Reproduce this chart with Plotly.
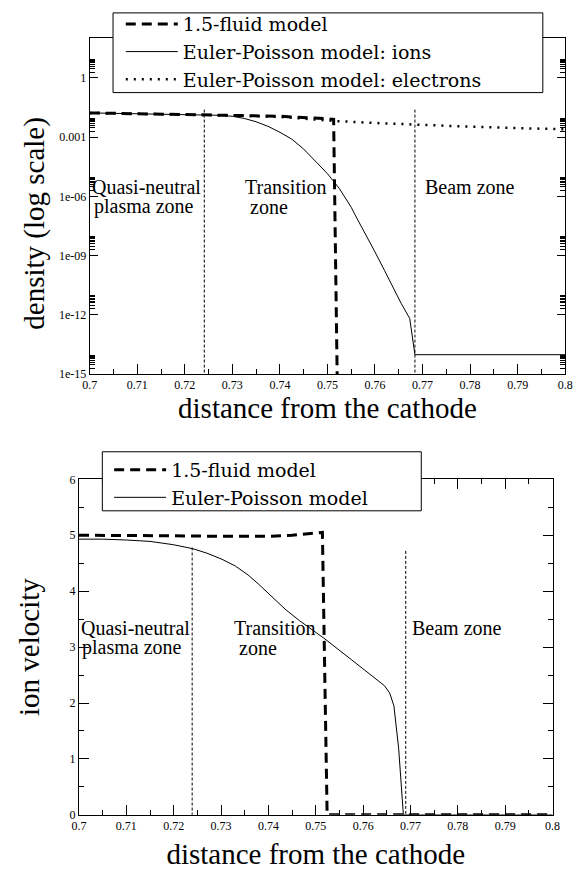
import plotly.graph_objects as go

# ---------------- data ----------------
# top panel: density (log scale)
fluid_dens_x = [0.700, 0.710, 0.720, 0.730, 0.740, 0.750, 0.7513, 0.7521]
fluid_dens_y = [0.017, 0.0155, 0.0145, 0.013, 0.0115, 0.0085, 0.008, 1e-16]

ion_dens_x = [0.700, 0.705, 0.710, 0.715, 0.720, 0.724, 0.727, 0.730, 0.7325, 0.735,
              0.7375, 0.740, 0.7425, 0.745, 0.7475, 0.750, 0.7525, 0.755, 0.7558,
              0.758, 0.7599, 0.762, 0.7639, 0.7655, 0.7673, 0.7684, 0.800]
ion_dens_log = [-1.77, -1.79, -1.81, -1.83, -1.85, -1.86, -1.89, -1.94, -2.05, -2.22,
                -2.45, -2.75, -3.10, -3.60, -4.20, -4.85, -5.60, -6.55, -6.93,
                -7.90, -8.77, -9.75, -10.70, -11.42, -12.18, -14.02, -14.02]
ion_dens_y = [10 ** v for v in ion_dens_log]

elec_dens_x = [0.700, 0.710, 0.720, 0.730, 0.740, 0.7515, 0.760, 0.7708, 0.780, 0.790, 0.800]
elec_dens_log = [-1.77, -1.81, -1.85, -1.90, -1.97, -2.18, -2.28, -2.40, -2.47, -2.54, -2.60]
elec_dens_y = [10 ** v for v in elec_dens_log]

zone_x_top = [0.7241, 0.7684]
zone_top_y = 0.025

# bottom panel: ion velocity
fluid_vel_x = [0.700, 0.710, 0.720, 0.730, 0.740, 0.745, 0.750, 0.7514, 0.7524, 0.800]
fluid_vel_y = [5.00, 5.00, 4.99, 4.98, 4.98, 5.00, 5.04, 5.05, 0.0, 0.0]

ion_vel_x = [0.700, 0.705, 0.710, 0.715, 0.720, 0.724, 0.727, 0.7302, 0.733, 0.7357,
             0.738, 0.7411, 0.7435, 0.7466, 0.7517, 0.7576, 0.7630, 0.7645, 0.7656,
             0.7665, 0.7675, 0.7685, 0.800]
ion_vel_y = [4.93, 4.93, 4.915, 4.89, 4.83, 4.76, 4.68, 4.57, 4.45, 4.29,
             4.12, 3.87, 3.68, 3.47, 3.16, 2.77, 2.42, 2.31, 2.18,
             1.95, 1.19, 0.0, 0.0]

zone_x_bot = [0.7239, 0.7690]
zone_top_bot = [4.78, 4.72]

x_ticks = [0.70, 0.71, 0.72, 0.73, 0.74, 0.75, 0.76, 0.77, 0.78, 0.79, 0.80]
x_ticktext = ["0.7", "0.71", "0.72", "0.73", "0.74", "0.75", "0.76", "0.77", "0.78", "0.79", "0.8"]
dens_ticks = [1e-15, 1e-12, 1e-9, 1e-6, 1e-3, 1]
dens_ticktext = ["1e-15", "1e-12", "1e-09", "1e-06", "0.001", "1"]
dens_minor = [m * 10.0 ** k for k in (-15, -12, -9, -6, -3, 0) for m in range(2, 10)]

zone_labels_top = [("Quasi-neutral", 0.7001, 0.557), ("plasma zone", 0.7004, 0.4985),
                   ("Transition", 0.7323, 0.557), ("zone", 0.7333, 0.4985),
                   ("Beam zone", 0.7700, 0.557)]
zone_labels_bot = [("Quasi-neutral", 0.7001, 0.557), ("plasma zone", 0.7003, 0.4985),
                   ("Transition", 0.7323, 0.557), ("zone", 0.7333, 0.4985),
                   ("Beam zone", 0.7698, 0.557)]

# ---------------- figure ----------------
SERIF = "Liberation Serif, Times New Roman, Times, serif"
LEGF = "DejaVu Serif, Bitstream Vera Serif, serif"

fig = go.Figure()

fig.add_trace(go.Scatter(x=fluid_dens_x, y=fluid_dens_y, mode="lines", name="1.5-fluid model",
                         line=dict(color="black", width=3, dash="10px,6px"),
                         xaxis="x", yaxis="y", legend="legend"))
fig.add_trace(go.Scatter(x=ion_dens_x, y=ion_dens_y, mode="lines", name="Euler-Poisson model: ions",
                         line=dict(color="black", width=1),
                         xaxis="x", yaxis="y", legend="legend"))
fig.add_trace(go.Scatter(x=elec_dens_x, y=elec_dens_y, mode="lines", name="Euler-Poisson model: electrons",
                         line=dict(color="black", width=2.5, dash="2px,6px"),
                         xaxis="x", yaxis="y", legend="legend"))
for zx in zone_x_top:
    fig.add_trace(go.Scatter(x=[zx, zx], y=[zone_top_y, 1e-16], mode="lines", showlegend=False,
                             line=dict(color="black", width=1, dash="3px,2px"),
                             xaxis="x", yaxis="y", hoverinfo="skip"))

fig.add_trace(go.Scatter(x=fluid_vel_x, y=fluid_vel_y, mode="lines", name="1.5-fluid model",
                         line=dict(color="black", width=3, dash="10px,6px"),
                         xaxis="x2", yaxis="y2", legend="legend2"))
fig.add_trace(go.Scatter(x=ion_vel_x, y=ion_vel_y, mode="lines", name="Euler-Poisson model",
                         line=dict(color="black", width=1),
                         xaxis="x2", yaxis="y2", legend="legend2"))
for zx, zt in zip(zone_x_bot, zone_top_bot):
    fig.add_trace(go.Scatter(x=[zx, zx], y=[zt, 0], mode="lines", showlegend=False,
                             line=dict(color="black", width=1, dash="3px,2px"),
                             xaxis="x2", yaxis="y2", hoverinfo="skip"))

tickfont = dict(family=SERIF, size=12, color="black")
titlefont = dict(family=SERIF, size=29, color="black")

common_x = dict(range=[0.7, 0.8], tickmode="array", tickvals=x_ticks, ticktext=x_ticktext,
                ticks="inside", ticklen=10, tickwidth=1, tickcolor="black",
                minor=dict(dtick=0.005, tick0=0.7, ticks="inside", ticklen=5, tickcolor="black"),
                showline=True, linecolor="black", linewidth=1, mirror="ticks",
                showgrid=False, zeroline=False, tickfont=tickfont)

fig.update_layout(
    width=580, height=875,
    margin=dict(l=0, r=0, t=0, b=0),
    paper_bgcolor="white", plot_bgcolor="white",
    font=dict(family=SERIF, color="black"),
    showlegend=True,
    xaxis=dict(domain=[84 / 580, 573 / 580], anchor="y",
               title=dict(text="distance from the cathode", font=titlefont, standoff=1),
               **common_x),
    yaxis=dict(domain=[1 - 373 / 875, 1 - 32 / 875], anchor="x", type="log", range=[-15, 2],
               tickmode="array", tickvals=dens_ticks, ticktext=dens_ticktext,
               ticks="inside", ticklen=8, tickwidth=1, tickcolor="black",
               minor=dict(tickmode="array", tickvals=dens_minor, ticks="inside", ticklen=5,
                          tickcolor="black"),
               showline=True, linecolor="black", linewidth=1, mirror="ticks",
               showgrid=False, zeroline=False, tickfont=tickfont),
    xaxis2=dict(domain=[73 / 580, 560 / 580], anchor="y2",
                title=dict(text="distance from the cathode", font=titlefont, standoff=11),
                **common_x),
    yaxis2=dict(domain=[1 - 821 / 875, 1 - 480 / 875], anchor="x2", range=[0, 6],
                tickmode="linear", tick0=0, dtick=1,
                ticks="inside", ticklen=10, tickwidth=1, tickcolor="black",
                minor=dict(dtick=0.5, ticks="inside", ticklen=5, tickcolor="black"),
                showline=True, linecolor="black", linewidth=1, mirror="ticks",
                showgrid=False, zeroline=False, tickfont=tickfont,
                title=dict(text="ion velocity", font=titlefont, standoff=21)),
    legend=dict(x=116 / 580, y=1 + 2 / 875, xanchor="left", yanchor="top",
                bgcolor="rgba(0,0,0,0)", borderwidth=0, itemwidth=52,
                font=dict(family=LEGF, size=19, color="black"), tracegroupgap=0),
    legend2=dict(x=104 / 580, y=1 - 451 / 875, xanchor="left", yanchor="top",
                 bgcolor="rgba(0,0,0,0)", borderwidth=0, itemwidth=52,
                 font=dict(family=LEGF, size=19, color="black"), tracegroupgap=0),
    shapes=[
        dict(type="rect", xref="paper", yref="paper", x0=108 / 580, x1=550 / 580,
             y0=1 - 87 / 875, y1=1 - 6 / 875, fillcolor="white",
             line=dict(color="black", width=1), layer="above"),
        dict(type="rect", xref="paper", yref="paper", x0=97 / 580, x1=425 / 580,
             y0=1 - 512 / 875, y1=1 - 452 / 875, fillcolor="white",
             line=dict(color="black", width=1), layer="above"),
    ],
)

annots = []
for (txt, ax_x, fy) in zone_labels_top:
    annots.append(dict(text=txt, x=ax_x, y=fy, xref="x", yref="y domain", xanchor="left",
                       yanchor="middle", showarrow=False,
                       font=dict(family=SERIF, size=20, color="black")))
for (txt, ax_x, fy) in zone_labels_bot:
    annots.append(dict(text=txt, x=ax_x, y=fy, xref="x2", yref="y2 domain", xanchor="left",
                       yanchor="middle", showarrow=False,
                       font=dict(family=SERIF, size=20, color="black")))
# y-axis title of the density panel (placed like the original, slightly below centre)
annots.append(dict(text="density (log scale)", x=27 / 580, y=1 - 220 / 875, xref="paper",
                   yref="paper", xanchor="center", yanchor="middle", textangle=-90,
                   showarrow=False, font=titlefont))
fig.update_layout(annotations=annots)

fig.write_html("out.html")
